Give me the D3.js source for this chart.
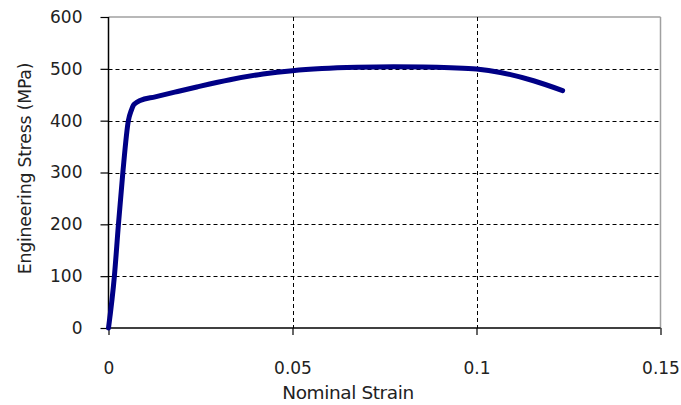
<!DOCTYPE html>
<html>
<head>
<meta charset="utf-8">
<script src="https://cdn.jsdelivr.net/npm/d3@7/dist/d3.min.js"></script>
<style>
  html, body { margin: 0; padding: 0; background: #fff; }
  svg text { font-family: "DejaVu Sans", sans-serif; fill: #222; }
</style>
</head>
<body>
<svg id="chart" width="681" height="405"></svg>
<script>
// Tensile test: engineering stress vs nominal strain
const strain = [0, 0.0016, 0.0027, 0.0039, 0.0054, 0.0062, 0.0068, 0.0076, 0.0086, 0.0127,
                0.018, 0.024, 0.033, 0.042, 0.050, 0.058, 0.0675, 0.0775, 0.0856, 0.093,
                0.100, 0.1065, 0.1155, 0.1234];
const stress = [0, 100, 200, 300, 400, 420, 430, 435, 439, 446,
                455, 465, 479, 490, 496.5, 500.5, 503, 504, 503.5, 502,
                499.5, 493, 477, 458];
const xTicks = [0, 0.05, 0.1, 0.15];
const xTickLabels = ["0", "0.05", "0.1", "0.15"];
const yTicks = [0, 100, 200, 300, 400, 500, 600];

const svg = d3.select("#chart");
const plotL = 108.5, plotR = 660.5, plotT = 17, plotB = 328;

const x = d3.scaleLinear().domain([0, 0.15]).range([plotL, plotR]);
const y = d3.scaleLinear().domain([0, 600]).range([plotB, plotT]);

// plot frame: grey top/right edges
svg.append("line").attr("x1", plotL).attr("x2", plotR).attr("y1", plotT).attr("y2", plotT)
  .attr("stroke", "#a0a0a0").attr("stroke-width", 1.5);
svg.append("line").attr("x1", plotR).attr("x2", plotR).attr("y1", plotT).attr("y2", plotB)
  .attr("stroke", "#a0a0a0").attr("stroke-width", 1.5);

// dashed gridlines
const grid = svg.append("g").attr("stroke", "#000").attr("stroke-width", 1).attr("stroke-dasharray", "4,3");
grid.selectAll(".gy").data(yTicks.filter(d => d > 0 && d < 600)).enter().append("line")
  .attr("x1", plotL).attr("x2", plotR).attr("y1", d => Math.round(y(d)) + 0.5).attr("y2", d => Math.round(y(d)) + 0.5);
grid.selectAll(".gx").data(xTicks.filter(d => d > 0 && d < 0.15)).enter().append("line")
  .attr("y1", plotT).attr("y2", plotB).attr("x1", d => Math.round(x(d)) + 0.5).attr("x2", d => Math.round(x(d)) + 0.5);

// axes
const yAxis = d3.axisLeft(y).tickValues(yTicks).tickSize(8).tickPadding(18).tickFormat(d3.format("d"));
const gy = svg.append("g").attr("transform", `translate(${plotL},0)`).call(yAxis);
const xAxis = d3.axisBottom(x).tickValues(xTicks).tickSize(7).tickPadding(27)
  .tickFormat((d, i) => xTickLabels[i]);
const gx = svg.append("g").attr("transform", `translate(0,${plotB})`).call(xAxis);
[gy, gx].forEach(g => {
  g.select(".domain").attr("stroke", "#000").attr("stroke-width", 1.5);
  g.selectAll(".tick line").attr("stroke", "#000").attr("stroke-width", 1.2);
  g.selectAll("text").style("font-size", "17px").attr("fill", "#222");
});
gy.select(".domain").attr("d", `M0,${plotT}V${plotB}`);
gx.select(".domain").attr("d", `M${plotL},0H${plotR}`);

// stress-strain curve
const line = d3.line().x((d, i) => x(strain[i])).y(d => y(d)).curve(d3.curveMonotoneX);
svg.append("path").datum(stress).attr("d", line)
  .attr("fill", "none").attr("stroke", "#000086").attr("stroke-width", 5)
  .attr("stroke-linecap", "round").attr("stroke-linejoin", "round");

// axis titles
svg.append("text").attr("x", 348).attr("y", 399).attr("text-anchor", "middle")
  .style("font-size", "18.5px").style("letter-spacing", "-0.4px").text("Nominal Strain");
svg.append("text").attr("transform", "translate(31,168.5) rotate(-90)").attr("text-anchor", "middle")
  .style("font-size", "17.3px").style("letter-spacing", "-0.2px").text("Engineering Stress (MPa)");
</script>
</body>
</html>
